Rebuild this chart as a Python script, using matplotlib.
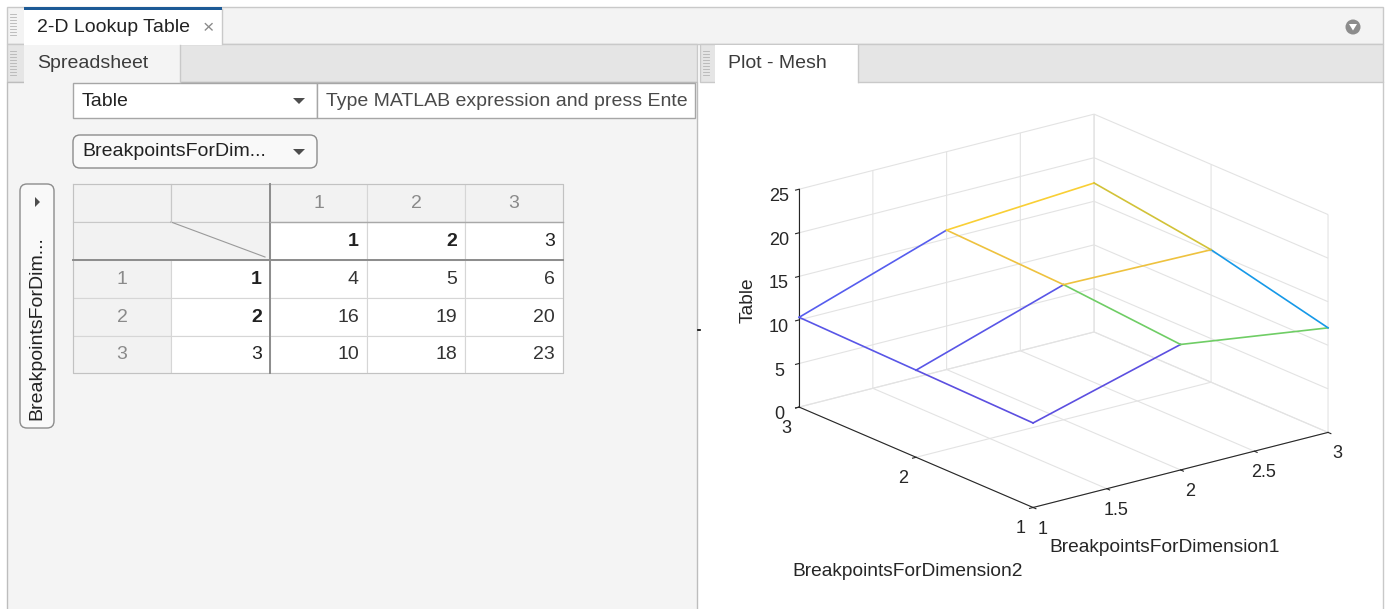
import numpy as np
import matplotlib.pyplot as plt
from matplotlib.patches import Rectangle, FancyBboxPatch, Polygon, Circle
from matplotlib.colors import LinearSegmentedColormap, Normalize

plt.rcParams['font.family'] = ['Liberation Sans', 'DejaVu Sans']

# spreadsheet data
row_breakpoints = [1, 2, 3]
col_breakpoints = [1, 2, 3]
table_values = [[4, 5, 6],
                [16, 19, 20],
                [10, 18, 23]]
bold_breakpoints = [True, True, False]

# mesh heights, z[i][j] -> dim1 index i, dim2 index j
dim1 = [1, 2, 3]
dim2 = [1, 2, 3]
mesh_z = [[9.7, 10.0, 10.3],
          [14.4, 15.5, 16.0],
          [12.0, 15.2, 17.1]]

x_ticks = [1, 1.5, 2, 2.5, 3]
x_ticklabels = ['1', '1.5', '2', '2.5', '3']
y_ticks = [1, 2, 3]
y_ticklabels = ['1', '2', '3']
z_ticks = [0, 5, 10, 15, 20, 25]
z_ticklabels = ['0', '5', '10', '15', '20', '25']

# rough parula
parula = LinearSegmentedColormap.from_list('parula', [
    (0.00, (0.36, 0.31, 0.88)),
    (0.10, (0.33, 0.38, 0.95)),
    (0.25, (0.1250, 0.5250, 0.9500)),
    (0.35, (0.0600, 0.6500, 0.8800)),
    (0.50, (0.1500, 0.7500, 0.6500)),
    (0.62, (0.3800, 0.8100, 0.4300)),
    (0.72, (0.7500, 0.7600, 0.2000)),
    (0.80, (0.9800, 0.7600, 0.2600)),
    (0.90, (0.9700, 0.8600, 0.1600)),
    (1.00, (0.9769, 0.9839, 0.0805)),
])

W, H = 1390, 609
fig = plt.figure(figsize=(W / 100, H / 100), dpi=100)
fig.patch.set_facecolor('white')

# --- GUI chrome, pixel coordinates with y going down ---
bg = fig.add_axes([0, 0, 1, 1])
bg.set_xlim(0, W)
bg.set_ylim(H, 0)
bg.axis('off')

txt = '#3c3c3c'
fs = 14

def box(x0, y0, x1, y1, fc, ec='none', lw=1, z=1):
    bg.add_patch(Rectangle((x0, y0), x1 - x0, y1 - y0, facecolor=fc, edgecolor=ec, linewidth=lw, zorder=z))

def grip(x, y0, y1):
    for yy in np.arange(y0, y1, 3):
        bg.plot([x, x + 6], [yy, yy], color='#b4b4b4', lw=0.6, zorder=3)

# top tab bar
box(7, 7, 1383, 44, '#f3f3f3', '#c9c9c9')
grip(10, 14, 38)
box(24, 9, 222, 45, 'white', 'none', z=2)
bg.plot([222, 222], [9, 44], color='#c9c9c9', lw=1, zorder=3)
box(24, 7, 222, 10, '#1d5a96', z=3)
bg.text(37, 28, '2-D Lookup Table', fontsize=fs, color='#222222', va='center', zorder=4)
bg.text(208, 29, '\u00d7', fontsize=14, color='#8a8a8a', ha='center', va='center', zorder=4)
bg.add_patch(Circle((1353, 27), 7.5, facecolor='#8c8c8c', edgecolor='none', zorder=3))
bg.add_patch(Polygon([[1349, 24], [1357, 24], [1353, 30.5]], closed=True, facecolor='white', zorder=4))

# second row: pane tabs
box(7, 44, 697, 82, '#e5e5e5', '#c9c9c9')
box(700, 44, 1383, 82, '#e5e5e5', '#c9c9c9')
grip(10, 51, 77)
grip(703, 51, 77)
box(24, 45, 180, 83, '#f4f4f4', z=2)
bg.plot([180, 180], [45, 82], color='#c9c9c9', lw=1, zorder=3)
bg.text(37, 63, 'Spreadsheet', fontsize=fs, color=txt, va='center', zorder=4)
box(715, 45, 858, 83, 'white', z=2)
bg.plot([858, 858], [45, 82], color='#c9c9c9', lw=1, zorder=3)
bg.text(728, 63, 'Plot - Mesh', fontsize=fs, color=txt, va='center', zorder=4)

# pane bodies
box(7, 82, 697, 612, '#f4f4f4', '#bdbdbd')
bg.plot([1383, 1383], [82, 609], color='#c9c9c9', lw=1)
box(24, 81, 180, 84, '#f4f4f4', z=2)
box(715, 81, 858, 84, 'white', z=2)
bg.plot([698, 700], [330, 330], color='black', lw=1.2)

# combobox + expression field (placeholder is cut off by the field edge)
box(73, 83, 317, 118, 'white', '#a6a6a6', z=2)
box(317, 83, 695, 118, 'white', '#a6a6a6', z=2)
bg.text(82, 101, 'Table', fontsize=fs, color='#222222', va='center', zorder=4)
bg.add_patch(Polygon([[293, 98], [305, 98], [299, 104]], closed=True, facecolor='#4d4d4d', zorder=4))
bg.text(326, 101, 'Type MATLAB expression and press Ente', fontsize=fs, color='#4a4a4a', va='center', zorder=4)

# breakpoint dropdown
bg.add_patch(FancyBboxPatch((73, 135), 244, 33, boxstyle='round,pad=0,rounding_size=7',
                            facecolor='#f9f9f9', edgecolor='#8c8c8c', lw=1, zorder=2))
bg.text(82, 152, 'BreakpointsForDim...', fontsize=fs, color='#222222', va='center', zorder=4)
bg.add_patch(Polygon([[293, 149], [305, 149], [299, 155]], closed=True, facecolor='#4d4d4d', zorder=4))

# vertical breakpoint button
bg.add_patch(FancyBboxPatch((20, 184), 34, 244, boxstyle='round,pad=0,rounding_size=7',
                            facecolor='#f9f9f9', edgecolor='#8c8c8c', lw=1, zorder=2))
bg.add_patch(Polygon([[35, 197], [35, 207], [40, 202]], closed=True, facecolor='#4d4d4d', zorder=4))
bg.text(37, 328, 'BreakpointsForDim...', fontsize=fs, color='#222222', rotation=90,
        ha='center', va='center', zorder=4)

# spreadsheet grid
xs = [73, 171, 270, 367, 465, 563]
ys = [184, 222, 260, 298, 336, 373]
grey_cell = '#f2f2f2'
for r in range(5):
    for c in range(5):
        fc = 'white'
        if r == 0 or c == 0 or (r == 1 and c == 1):
            fc = grey_cell
        box(xs[c], ys[r], xs[c + 1], ys[r + 1], fc, '#d6d6d6', lw=0.8, z=2)
box(73, 222, 270, 260, grey_cell, z=3)
bg.plot([73, 270], [222, 222], color='#c8c8c8', lw=0.8, zorder=3)
bg.plot([171, 265], [222, 257], color='#9a9a9a', lw=0.8, zorder=4)
bg.plot([171, 171], [184, 222], color='#c8c8c8', lw=0.8, zorder=4)
bg.plot([73, 563, 563, 73, 73], [184, 184, 373, 373, 184], color='#c2c2c2', lw=0.8, zorder=4)
bg.plot([270, 270], [184, 373], color='#8c8c8c', lw=1.4, zorder=5)
bg.plot([73, 563], [260, 260], color='#8c8c8c', lw=1.4, zorder=5)
bg.plot([270, 563], [222, 222], color='#a8a8a8', lw=1.0, zorder=5)

for c in range(3):
    xc = (xs[c + 2] + xs[c + 3]) / 2
    bg.text(xc, 203, str(c + 1), fontsize=fs, color='#8a8a8a', ha='center', va='center', zorder=6)
    bg.text(xs[c + 3] - 8, 241, str(col_breakpoints[c]), fontsize=fs, color='#222222',
            ha='right', va='center', fontweight='bold' if bold_breakpoints[c] else 'normal', zorder=6)
for r in range(3):
    yc = (ys[r + 2] + ys[r + 3]) / 2
    bg.text((xs[0] + xs[1]) / 2, yc, str(r + 1), fontsize=fs, color='#8a8a8a', ha='center', va='center', zorder=6)
    bg.text(xs[2] - 8, yc, str(row_breakpoints[r]), fontsize=fs, color='#222222', ha='right', va='center',
            fontweight='bold' if bold_breakpoints[r] else 'normal', zorder=6)
    for c in range(3):
        bg.text(xs[c + 3] - 8, yc, str(table_values[r][c]), fontsize=fs, color='#333333',
                ha='right', va='center', zorder=6)

# --- mesh plot ---
ax = fig.add_axes([715.5 / W, 48 / H, 683 / W, 0.80], projection='3d')
ax.set_proj_type('ortho')
ax.view_init(elev=19.3, azim=-127.6)
ax.set_box_aspect((1.0, 1.03, 0.62), zoom=1.16)
ax.patch.set_alpha(0)

# edges take the colour of their lower-index vertex, like MATLAB's flat mesh
norm = Normalize(vmin=np.min(mesh_z), vmax=np.max(mesh_z))
for i in range(3):
    for j in range(3):
        col = parula(norm(mesh_z[i][j]))
        if i < 2:
            ax.plot([dim1[i], dim1[i + 1]], [dim2[j], dim2[j]], [mesh_z[i][j], mesh_z[i + 1][j]],
                    color=col, lw=1.2, clip_on=False)
        if j < 2:
            ax.plot([dim1[i], dim1[i]], [dim2[j], dim2[j + 1]], [mesh_z[i][j], mesh_z[i][j + 1]],
                    color=col, lw=1.2, clip_on=False)

ax.set_xlim(1, 3)
ax.set_ylim(1, 3)
ax.set_zlim(0, 25)
ax.set_xticks(x_ticks)
ax.set_xticklabels(x_ticklabels)
ax.set_yticks(y_ticks)
ax.set_yticklabels(y_ticklabels)
ax.set_zticks(z_ticks)
ax.set_zticklabels(z_ticklabels)
for a in (ax.xaxis, ax.yaxis, ax.zaxis):
    a.set_pane_color((1, 1, 1, 0))
    a.pane.set_edgecolor('#d9d9d9')
    a.line.set_color('#262626')
    a._axinfo['grid']['color'] = '#e3e3e3'
    a._axinfo['grid']['linewidth'] = 0.8
    a._axinfo['tick']['inward_factor'] = 0.15
    a._axinfo['tick']['outward_factor'] = 0.0
ax.tick_params(labelsize=13, colors='#262626')
ax.xaxis.set_tick_params(pad=-0.5)
ax.yaxis.set_tick_params(pad=0)
ax.zaxis.set_tick_params(pad=-1)

fig.text(1165 / W, 1 - 548 / H, 'BreakpointsForDimension1', fontsize=13.8, color='#262626', ha='center', va='center')
fig.text(908 / W, 1 - 572 / H, 'BreakpointsForDimension2', fontsize=13.8, color='#262626', ha='center', va='center')
fig.text(748 / W, 1 - 300 / H, 'Table', fontsize=13.8, color='#262626', ha='center', va='center', rotation=90)

fig.savefig('out.png', dpi=100)
